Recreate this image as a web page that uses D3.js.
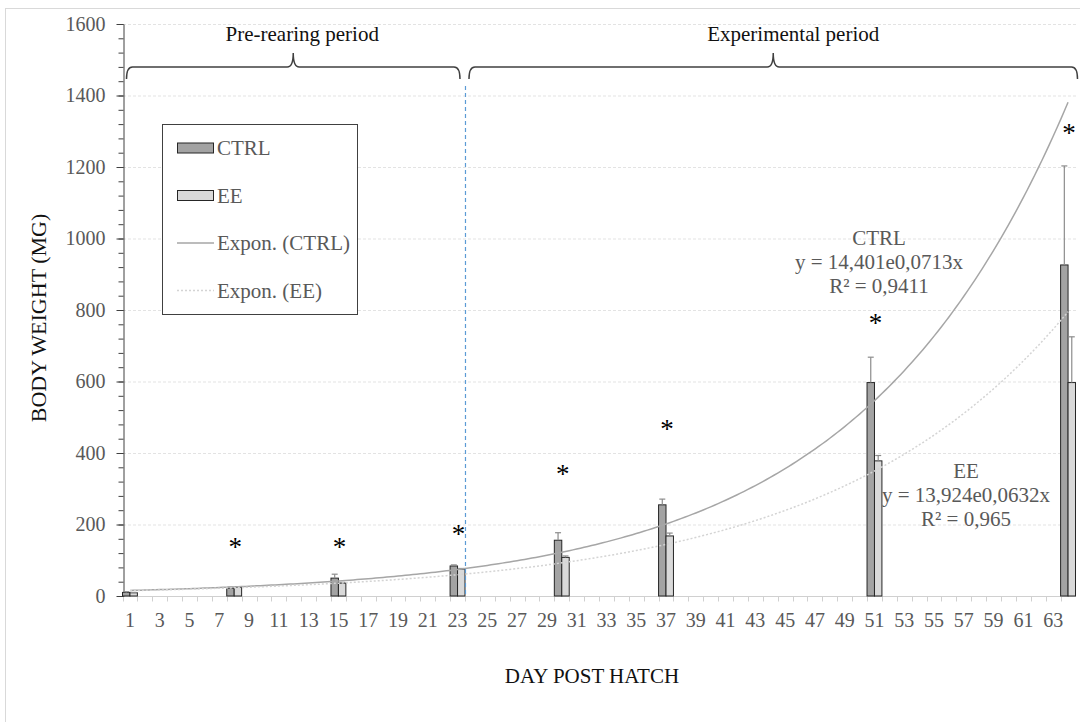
<!DOCTYPE html>
<html>
<head>
<meta charset="utf-8">
<script src="https://cdn.jsdelivr.net/npm/d3@7"></script>
<style>
  body { margin: 0; background: #fff; }
  svg text { font-family: "Liberation Serif", "Times New Roman", serif; }
</style>
</head>
<body>
<div id="chart"></div>
<script>
// categories: one per day post hatch
const days = d3.range(1, 65);
const xTickLabels = d3.range(1, 64, 2);
const yTicks = [0, 200, 400, 600, 800, 1000, 1200, 1400, 1600];

// sampling days and mean body weight (mg) with +SD
const sampleDays = [1, 8, 15, 23, 30, 37, 51, 64];
const ctrlMean = [10, 22, 50, 84, 156, 255, 597, 926];
const ctrlErr = [2, 3, 11, 3, 21, 16, 71, 277];
const eeMean = [9, 24, 36, 75, 108, 168, 378, 597];
const eeErr = [1, 2, 2, 2, 4, 8, 15, 128];

// significance stars (value where the star sits)
const starDays = [8, 15, 23, 30, 37, 51, 64];
const starLevel = [143, 143, 179, 347, 473, 769, 1300];

// exponential trendlines y = a * e^(b x)
const trendNames = ["CTRL", "EE"];
const trendA = [14.401, 13.924];
const trendB = [0.0713, 0.0632];
const trendR2 = ["0,9411", "0,965"];

// periods
const periodLabels = ["Pre-rearing period", "Experimental period"];
const periodStart = [1, 24];
const periodEnd = [23, 64];

const W = 1080, H = 722;
const svg = d3.select("#chart").append("svg")
    .attr("width", W)
    .attr("height", H);

// chart frame
svg.append("rect")
    .attr("x", 5.5).attr("y", 8.5)
    .attr("width", 1100).attr("height", 720)
    .attr("fill", "none")
    .attr("stroke", "#d9d9d9");

const x = d3.scaleBand().domain(days).range([122.5, 1075.5]).padding(0);
const bw = x.bandwidth();
const y = d3.scaleLinear().domain([0, 1600]).range([596, 24]);
const xc = d3.scaleLinear().domain([1, 64]).range([x(1) + bw / 2, x(64) + bw / 2]);

// gridlines
svg.append("g")
    .selectAll("line")
    .data(yTicks.slice(1))
    .enter().append("line")
    .attr("x1", 123).attr("x2", 1076)
    .attr("y1", d => y(d) + 0.5).attr("y2", d => y(d) + 0.5)
    .attr("stroke", "#e3e3e3")
    .attr("stroke-dasharray", "3,2");

// x axis: light line, ticks at band edges
const xAxisG = svg.append("g").attr("transform", "translate(0,596.5)");
xAxisG.append("line")
    .attr("x1", 123).attr("x2", 1076)
    .attr("stroke", "#d0d0d0");
xAxisG.selectAll("line.tk")
    .data(days)
    .enter().append("line")
    .attr("class", "tk")
    .attr("x1", d => Math.round(x(d)) + 0.5).attr("x2", d => Math.round(x(d)) + 0.5)
    .attr("y1", 0).attr("y2", 5)
    .attr("stroke", "#d0d0d0");
xAxisG.selectAll("text")
    .data(xTickLabels)
    .enter().append("text")
    .attr("x", d => x(d) + bw / 2)
    .attr("y", 30)
    .attr("text-anchor", "middle")
    .attr("font-size", 20)
    .attr("fill", "#595959")
    .text(d => d);

// y axis with minor ticks
const yMinor = svg.append("g").attr("transform", "translate(123.5,0)")
    .call(d3.axisLeft(y).tickValues(d3.range(0, 1601, 40)).tickSize(5).tickFormat(""));
yMinor.select(".domain").remove();
yMinor.selectAll("line").attr("stroke", "#404040");
const yAxis = svg.append("g").attr("transform", "translate(123.5,0)")
    .call(d3.axisLeft(y).tickValues(yTicks).tickFormat(d3.format("d"))
      .tickSize(7).tickSizeOuter(0).tickPadding(11));
yAxis.select(".domain").attr("stroke", "#404040");
yAxis.selectAll("line").attr("stroke", "#404040");
yAxis.selectAll("text")
    .attr("font-family", "Liberation Serif")
    .attr("font-size", 20)
    .attr("fill", "#595959");

// bars
const barG = svg.append("g");
function drawBars(vals, errs, offset, fill) {
  barG.selectAll(null)
    .data(sampleDays)
    .enter().append("rect")
    .attr("x", d => x(d) + offset)
    .attr("width", bw / 2)
    .attr("y", (d, i) => y(vals[i]))
    .attr("height", (d, i) => y(0) - y(vals[i]))
    .attr("fill", fill)
    .attr("stroke", "#262626")
    .attr("stroke-width", 1);
  const eg = barG.append("g").attr("stroke", "#8c8c8c").attr("stroke-width", 1.2);
  eg.selectAll(null)
    .data(sampleDays)
    .enter().append("line")
    .attr("x1", d => x(d) + offset + bw / 4).attr("x2", d => x(d) + offset + bw / 4)
    .attr("y1", (d, i) => y(vals[i]))
    .attr("y2", (d, i) => y(vals[i] + errs[i]));
  eg.selectAll(null)
    .data(sampleDays)
    .enter().append("line")
    .attr("x1", d => x(d) + offset + bw / 4 - 3).attr("x2", d => x(d) + offset + bw / 4 + 3)
    .attr("y1", (d, i) => y(vals[i] + errs[i]))
    .attr("y2", (d, i) => y(vals[i] + errs[i]));
}
drawBars(ctrlMean, ctrlErr, 0, "#a3a3a3");
drawBars(eeMean, eeErr, bw / 2, "#d9d9d9");

// trendlines
const line = d3.line().x(d => xc(d[0])).y(d => y(d[1]));
const tDays = d3.range(1, 64.01, 0.25);
trendNames.forEach((name, k) => {
  svg.append("path")
    .attr("d", line(tDays.map(d => [d, trendA[k] * Math.exp(trendB[k] * d)])))
    .attr("fill", "none")
    .attr("stroke", k === 0 ? "#a6a6a6" : "#d4d4d4")
    .attr("stroke-width", 1.5)
    .attr("stroke-dasharray", k === 0 ? null : "2,2");
});

// period divider
svg.append("line")
    .attr("x1", x(24) + 0.5).attr("x2", x(24) + 0.5)
    .attr("y1", 86).attr("y2", 596)
    .attr("stroke", "#5b9bd5")
    .attr("stroke-width", 1.2)
    .attr("stroke-dasharray", "4,3");

// curly brackets + labels
periodLabels.forEach((lab, i) => {
  const x0 = x(periodStart[i]) + 4;
  const x1 = i === 0 ? x(periodEnd[i]) + bw - 5 : x.range()[1] + 2;
  const m = (x0 + x1) / 2, yl = 67, r = 6;
  const p = d3.path();
  p.moveTo(x0, yl + 12);
  p.quadraticCurveTo(x0, yl, x0 + r, yl);
  p.lineTo(m - r, yl);
  p.quadraticCurveTo(m, yl, m, yl - 14);
  p.quadraticCurveTo(m, yl, m + r, yl);
  p.lineTo(x1 - r, yl);
  p.quadraticCurveTo(x1, yl, x1, yl + 12);
  svg.append("path")
    .attr("d", p.toString())
    .attr("fill", "none")
    .attr("stroke", "#404040")
    .attr("stroke-width", 1.5);
  svg.append("text")
    .attr("x", m + (i === 0 ? 9 : 20))
    .attr("y", 41)
    .attr("text-anchor", "middle")
    .attr("font-size", 21)
    .attr("fill", "#111")
    .text(lab);
});

// significance stars
svg.append("g")
    .selectAll("text")
    .data(starDays)
    .enter().append("text")
    .attr("x", d => x(d) + bw / 2 + 1)
    .attr("y", (d, i) => y(starLevel[i]) + 11)
    .attr("text-anchor", "middle")
    .attr("font-size", 27)
    .attr("fill", "#000")
    .text("*");

// trendline equations
const eqPos = [[879, 245], [966, 478]];
trendNames.forEach((name, k) => {
  const t = svg.append("text")
      .attr("text-anchor", "middle")
      .attr("font-size", 21)
      .attr("fill", "#595959");
  const lines = [name,
    "y = " + String(trendA[k]).replace(".", ",") + "e" + String(trendB[k]).replace(".", ",") + "x",
    "R² = " + trendR2[k]];
  lines.forEach((s, j) => {
    t.append("tspan")
      .attr("x", eqPos[k][0])
      .attr("y", eqPos[k][1] + j * 24)
      .text(s);
  });
});

// legend
const lg = svg.append("g");
lg.append("rect")
    .attr("x", 162.5).attr("y", 124.5)
    .attr("width", 195).attr("height", 190)
    .attr("fill", "#fff")
    .attr("stroke", "#404040");
const legItems = [
  {label: "CTRL", type: "bar", fill: "#a3a3a3"},
  {label: "EE", type: "bar", fill: "#d9d9d9"},
  {label: "Expon. (CTRL)", type: "line", stroke: "#a6a6a6", dash: null},
  {label: "Expon. (EE)", type: "line", stroke: "#d4d4d4", dash: "2,2"}
];
legItems.forEach((it, i) => {
  const cy = 148 + i * 47.5;
  if (it.type === "bar") {
    lg.append("rect")
      .attr("x", 177.5).attr("y", cy - 5)
      .attr("width", 36).attr("height", 10)
      .attr("fill", it.fill)
      .attr("stroke", "#262626");
  } else {
    lg.append("line")
      .attr("x1", 177).attr("x2", 214)
      .attr("y1", cy).attr("y2", cy)
      .attr("stroke", it.stroke)
      .attr("stroke-width", 1.5)
      .attr("stroke-dasharray", it.dash);
  }
  lg.append("text")
    .attr("x", 217)
    .attr("y", cy + 7)
    .attr("font-size", 21)
    .attr("fill", "#595959")
    .text(it.label);
});

// axis titles
svg.append("text")
    .attr("x", 592).attr("y", 683)
    .attr("text-anchor", "middle")
    .attr("font-size", 21)
    .attr("fill", "#111")
    .text("DAY POST HATCH");
svg.append("text")
    .attr("transform", "translate(46,318) rotate(-90)")
    .attr("text-anchor", "middle")
    .attr("font-size", 22)
    .attr("fill", "#111")
    .text("BODY WEIGHT (MG)");
</script>
</body>
</html>
